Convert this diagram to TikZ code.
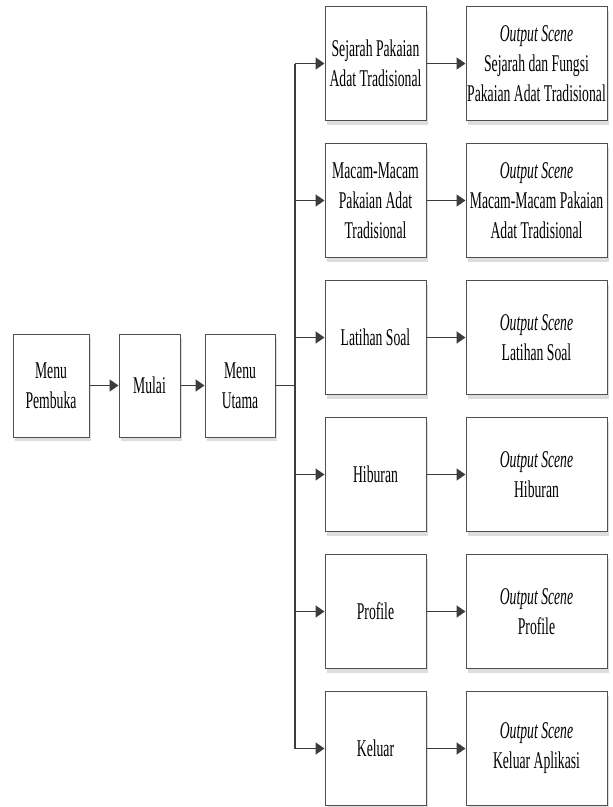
\documentclass[tikz,border=0pt]{standalone}
\usepackage{fontspec}
\setmainfont{Liberation Serif}[FakeStretch=0.57]
\usetikzlibrary{arrows.meta,shadows}
\definecolor{edge}{HTML}{3C3C3C}
\definecolor{frame}{HTML}{505050}
\definecolor{shade}{HTML}{DDDDDD}

\begin{document}
\begin{tikzpicture}[x=1pt, y=-1pt,
  menu/.style={draw=frame, line width=1pt, fill=white, align=center, inner sep=0pt,
    font=\fontsize{24}{30}\selectfont,
    drop shadow={shadow xshift=2pt, shadow yshift=-4pt, fill=shade, opacity=1}},
  sub/.style={menu, minimum width=101pt, minimum height=114pt},
  scene/.style={menu, minimum width=141pt, minimum height=114pt},
  line/.style={line width=1.6pt, edge},
  arr/.style={line width=1.6pt, edge, -{Triangle[length=9pt, width=12pt]}}
]
  \useasboundingbox (0,0) rectangle (613,807);

  % Main flow
  \node[menu, minimum width=76pt, minimum height=103pt] (pembuka) at (51, 385.5) {Menu\\Pembuka};
  \node[menu, minimum width=61pt, minimum height=103pt] (mulai) at (149.5, 385.5) {Mulai};
  \node[menu, minimum width=70pt, minimum height=103pt] (utama) at (240, 385.5) {Menu\\Utama};

  \draw[arr] (pembuka) -- (mulai);
  \draw[arr] (mulai) -- (utama);

  % Sub menus
  \node[sub] (sejarah) at (375.5, 63.5) {Sejarah Pakaian\\Adat Tradisional};
  \node[sub] (macam) at (375.5, 200.5) {Macam-Macam\\Pakaian Adat\\Tradisional};
  \node[sub] (latihan) at (375.5, 337.5) {Latihan Soal};
  \node[sub] (hiburan) at (375.5, 474.5) {Hiburan};
  \node[sub] (profile) at (375.5, 611.5) {Profile};
  \node[sub] (keluar) at (375.5, 748.5) {Keluar};

  % Output scenes
  \node[scene] (osejarah) at (536.5, 63.5) {\textit{Output Scene}\\Sejarah dan Fungsi\\Pakaian Adat Tradisional};
  \node[scene] (omacam) at (536.5, 200.5) {\textit{Output Scene}\\Macam-Macam Pakaian\\Adat Tradisional};
  \node[scene] (olatihan) at (536.5, 337.5) {\textit{Output Scene}\\Latihan Soal};
  \node[scene] (ohiburan) at (536.5, 474.5) {\textit{Output Scene}\\Hiburan};
  \node[scene] (oprofile) at (536.5, 611.5) {\textit{Output Scene}\\Profile};
  \node[scene] (okeluar) at (536.5, 748.5) {\textit{Output Scene}\\Keluar Aplikasi};

  % Trunk from Menu Utama
  \coordinate (trunktop) at (295, 63.5);
  \coordinate (trunkbot) at (295, 748.5);
  \draw[line] (utama.east) -- (utama.east -| trunktop);
  \draw[line] (trunktop) -- (trunkbot);

  \draw[arr] (trunktop) -- (sejarah);
  \draw[arr] (macam.west -| trunktop) -- (macam);
  \draw[arr] (latihan.west -| trunktop) -- (latihan);
  \draw[arr] (hiburan.west -| trunktop) -- (hiburan);
  \draw[arr] (profile.west -| trunktop) -- (profile);
  \draw[arr] (trunkbot) -- (keluar);

  \draw[arr] (sejarah) -- (osejarah);
  \draw[arr] (macam) -- (omacam);
  \draw[arr] (latihan) -- (olatihan);
  \draw[arr] (hiburan) -- (ohiburan);
  \draw[arr] (profile) -- (oprofile);
  \draw[arr] (keluar) -- (okeluar);
\end{tikzpicture}
\end{document}
